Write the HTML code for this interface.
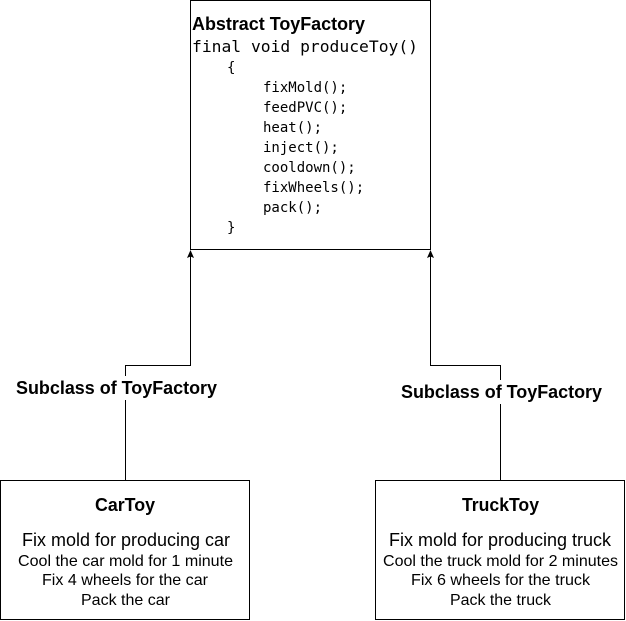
<!DOCTYPE html>
<html><head><style>body{margin:0;background:#fff}svg{display:block}</style></head><body>
<svg width="626" height="621" xmlns="http://www.w3.org/2000/svg">
<g fill="none" stroke="#000" stroke-width="1">
<rect x="190.5" y="0.5" width="240" height="249"/>
<rect x="0.5" y="480.5" width="249" height="139"/>
<rect x="375.5" y="480.5" width="249" height="139"/>
<polyline points="125.5,480 125.5,365.5 190.5,365.5 190.5,256"/>
<polyline points="500.5,480 500.5,365.5 430.5,365.5 430.5,256"/>
</g>
<path d="M190.5,250 L187,258 L190.5,256.5 L194,258 Z M430.5,250 L427,258 L430.5,256.5 L434,258 Z" fill="#000"/>
<rect x="10" y="376" width="215" height="24" fill="#fff"/>
<rect x="396" y="380" width="215" height="24" fill="#fff"/>
<g font-family="Liberation Sans, sans-serif" fill="#000" lengthAdjust="spacingAndGlyphs">
<text x="192" y="30" font-size="18" font-weight="bold" textLength="173" lengthAdjust="spacingAndGlyphs">Abstract ToyFactory</text>
<text x="16" y="394" font-size="18" font-weight="bold" textLength="201" lengthAdjust="spacingAndGlyphs">Subclass of ToyFactory</text>
<text x="401" y="398" font-size="18" font-weight="bold" textLength="201" lengthAdjust="spacingAndGlyphs">Subclass of ToyFactory</text>
<text x="95" y="511" font-size="18" font-weight="bold" textLength="60" lengthAdjust="spacingAndGlyphs">CarToy</text>
<text x="22" y="546" font-size="18" textLength="208" lengthAdjust="spacingAndGlyphs">Fix mold for producing car</text>
<text x="18" y="566" font-size="16" textLength="215" lengthAdjust="spacingAndGlyphs">Cool the car mold for 1 minute</text>
<text x="42" y="585" font-size="16" textLength="166" lengthAdjust="spacingAndGlyphs">Fix 4 wheels for the car</text>
<text x="81" y="605" font-size="16" textLength="89" lengthAdjust="spacingAndGlyphs">Pack the car</text>
<text x="462" y="511" font-size="18" font-weight="bold" textLength="77" lengthAdjust="spacingAndGlyphs">TruckToy</text>
<text x="389" y="546" font-size="18" textLength="222" lengthAdjust="spacingAndGlyphs">Fix mold for producing truck</text>
<text x="383" y="566" font-size="16" textLength="235" lengthAdjust="spacingAndGlyphs">Cool the truck mold for 2 minutes</text>
<text x="411" y="585" font-size="16" textLength="179" lengthAdjust="spacingAndGlyphs">Fix 6 wheels for the truck</text>
<text x="450" y="605" font-size="16" textLength="101" lengthAdjust="spacingAndGlyphs">Pack the truck</text>
</g>
<g font-family="DejaVu Sans Mono, Liberation Mono, monospace" fill="#000" font-size="14">
<text x="192" y="52" font-size="16" textLength="226" lengthAdjust="spacingAndGlyphs">final void produceToy()</text>
<text x="227" y="72">{</text>
<text x="263" y="92">fixMold();</text>
<text x="263" y="112">feedPVC();</text>
<text x="263" y="132">heat();</text>
<text x="263" y="152">inject();</text>
<text x="263" y="172">cooldown();</text>
<text x="263" y="192">fixWheels();</text>
<text x="263" y="212">pack();</text>
<text x="227" y="232">}</text>
</g>
</svg>
</body></html>
